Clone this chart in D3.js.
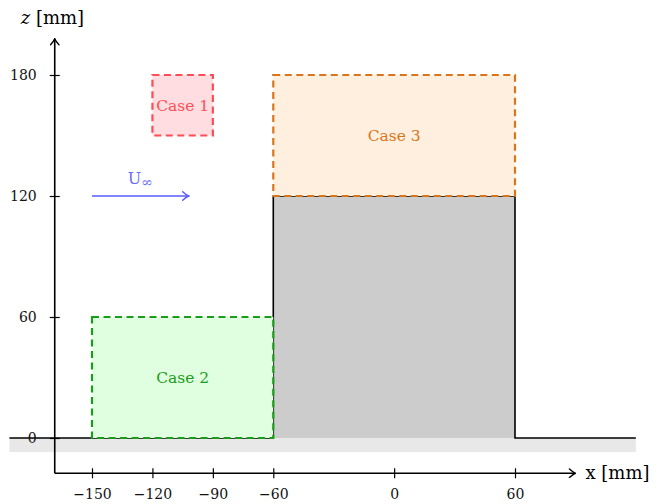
<!DOCTYPE html>
<html>
<head>
<meta charset="utf-8">
<script src="https://cdn.jsdelivr.net/npm/d3@7"></script>
<style>
  html, body { margin: 0; padding: 0; background: #fff; }
  svg text { font-family: "DejaVu Serif", serif; }
</style>
</head>
<body>
<div id="chart"></div>
<script>
// data
const xTicks = [-150, -120, -90, -60, 0, 60];
const zTicks = [0, 60, 120, 180];
const caseNames = ["Case 1", "Case 2", "Case 3"];
const caseX0 = [-120, -150, -60];
const caseX1 = [-90, -60, 60];
const caseZ0 = [150, 0, 120];
const caseZ1 = [180, 60, 180];
const caseStroke = ["#ff4d55", "#1a9e1a", "#d9761c"];
const caseFill = ["#ffdde0", "#e0ffe0", "#ffefdf"];
const blockX = [-60, 60];
const blockZ = [0, 120];
const flowX = [-150, -102];
const flowZ = 120;
const groundX = [-191, 120];
const groundDepth = 7;
const axisOrigin = [-168.5, -17.5];
const axisEnd = [90, 198];

let width = 658, height = 504;
let x = d3.scaleLinear().domain([-150, 60]).range([92, 515]);
let z = d3.scaleLinear().domain([0, 180]).range([438, 75]);

let $svg = d3.select('#chart').append('svg')
    .attr('width', width)
    .attr('height', height);

let defs = $svg.append('defs');
let arrow = (id, color) => {
    defs.append('marker')
        .attr('id', id)
        .attr('viewBox', '-6 -5 8 10')
        .attr('refX', 1)
        .attr('refY', 0)
        .attr('markerWidth', 8)
        .attr('markerHeight', 10)
        .attr('markerUnits', 'userSpaceOnUse')
        .attr('orient', 'auto')
        .append('path')
        .attr('d', 'M-5,-4.2 Q-1.5,-1 1,0 Q-1.5,1 -5,4.2')
        .attr('fill', 'none')
        .attr('stroke', color)
        .attr('stroke-width', 1.4)
        .attr('stroke-linecap', 'round');
};
arrow('arrBlack', '#000');
arrow('arrBlue', '#5a5aff');

// ground
$svg.append('rect')
    .attr('x', x(groundX[0]))
    .attr('y', z(0))
    .attr('width', x(groundX[1]) - x(groundX[0]))
    .attr('height', z(-groundDepth) - z(0))
    .attr('fill', '#e8e8e8');

// block
$svg.append('rect')
    .attr('x', x(blockX[0]))
    .attr('y', z(blockZ[1]))
    .attr('width', x(blockX[1]) - x(blockX[0]))
    .attr('height', z(blockZ[0]) - z(blockZ[1]))
    .attr('fill', '#cccccc');

$svg.append('path')
    .attr('d', `M${x(groundX[0])},${z(0)} H${x(blockX[0])} V${z(blockZ[1])} H${x(blockX[1])} V${z(0)} H${x(groundX[1])}`)
    .attr('fill', 'none')
    .attr('stroke', '#000')
    .attr('stroke-width', 1.6);

// cases
caseNames.forEach((name, i) => {
    $svg.append('rect')
        .attr('x', x(caseX0[i]))
        .attr('y', z(caseZ1[i]))
        .attr('width', x(caseX1[i]) - x(caseX0[i]))
        .attr('height', z(caseZ0[i]) - z(caseZ1[i]))
        .attr('fill', caseFill[i])
        .attr('stroke', caseStroke[i])
        .attr('stroke-width', 2.2)
        .attr('stroke-dasharray', '7 4.5');
    $svg.append('text')
        .attr('x', x((caseX0[i] + caseX1[i]) / 2))
        .attr('y', z((caseZ0[i] + caseZ1[i]) / 2))
        .attr('dy', '0.35em')
        .attr('text-anchor', 'middle')
        .attr('font-size', 15.5)
        .attr('fill', caseStroke[i])
        .text(name);
});

// free stream arrow
$svg.append('line')
    .attr('x1', x(flowX[0]))
    .attr('x2', x(flowX[1]))
    .attr('y1', z(flowZ))
    .attr('y2', z(flowZ))
    .attr('stroke', '#5a5aff')
    .attr('stroke-width', 1.6)
    .attr('marker-end', 'url(#arrBlue)');
let uText = $svg.append('text')
    .attr('x', x((flowX[0] + flowX[1]) / 2))
    .attr('y', z(flowZ) - 12)
    .attr('text-anchor', 'middle')
    .attr('font-size', 16)
    .attr('fill', '#6a6aff');
uText.append('tspan').text('U');
uText.append('tspan').attr('font-size', 14).attr('dy', 3).text('∞');

// axes
let ox = x(axisOrigin[0]), oy = z(axisOrigin[1]);
let xAxis = d3.axisBottom(x)
    .tickValues(xTicks)
    .tickSize(4)
    .tickPadding(12)
    .tickFormat(d => d < 0 ? '\u2212' + Math.abs(d) : d);
let gx = $svg.append('g')
    .attr('transform', `translate(0,${oy})`)
    .call(xAxis);
gx.select('.domain').remove();
gx.selectAll('.tick line').attr('y1', -5).attr('y2', 5).attr('stroke-width', 1.2);
gx.selectAll('.tick text').attr('font-size', 14).attr('font-family', '"DejaVu Serif", serif').attr('fill', '#111');

let zAxis = d3.axisLeft(z)
    .tickValues(zTicks)
    .tickSize(4)
    .tickPadding(14);
let gz = $svg.append('g')
    .attr('transform', `translate(${ox},0)`)
    .call(zAxis);
gz.select('.domain').remove();
gz.selectAll('.tick line').attr('x1', -5).attr('x2', 5).attr('stroke-width', 1.2);
gz.selectAll('.tick text').attr('font-size', 14).attr('font-family', '"DejaVu Serif", serif').attr('fill', '#111');

$svg.append('line')
    .attr('x1', ox).attr('y1', oy)
    .attr('x2', x(axisEnd[0])).attr('y2', oy)
    .attr('stroke', '#000').attr('stroke-width', 1.6)
    .attr('marker-end', 'url(#arrBlack)');
$svg.append('line')
    .attr('x1', ox).attr('y1', oy)
    .attr('x2', ox).attr('y2', z(axisEnd[1]))
    .attr('stroke', '#000').attr('stroke-width', 1.6)
    .attr('marker-end', 'url(#arrBlack)');

$svg.append('text')
    .attr('x', x(axisEnd[0]) + 10)
    .attr('y', oy + 6)
    .attr('font-size', 18)
    .text('x [mm]');
let zl = $svg.append('text')
    .attr('x', ox - 34)
    .attr('y', 24)
    .attr('font-size', 18);
zl.append('tspan').attr('font-style', 'italic').text('z');
zl.append('tspan').text(' [mm]');
</script>
</body>
</html>
